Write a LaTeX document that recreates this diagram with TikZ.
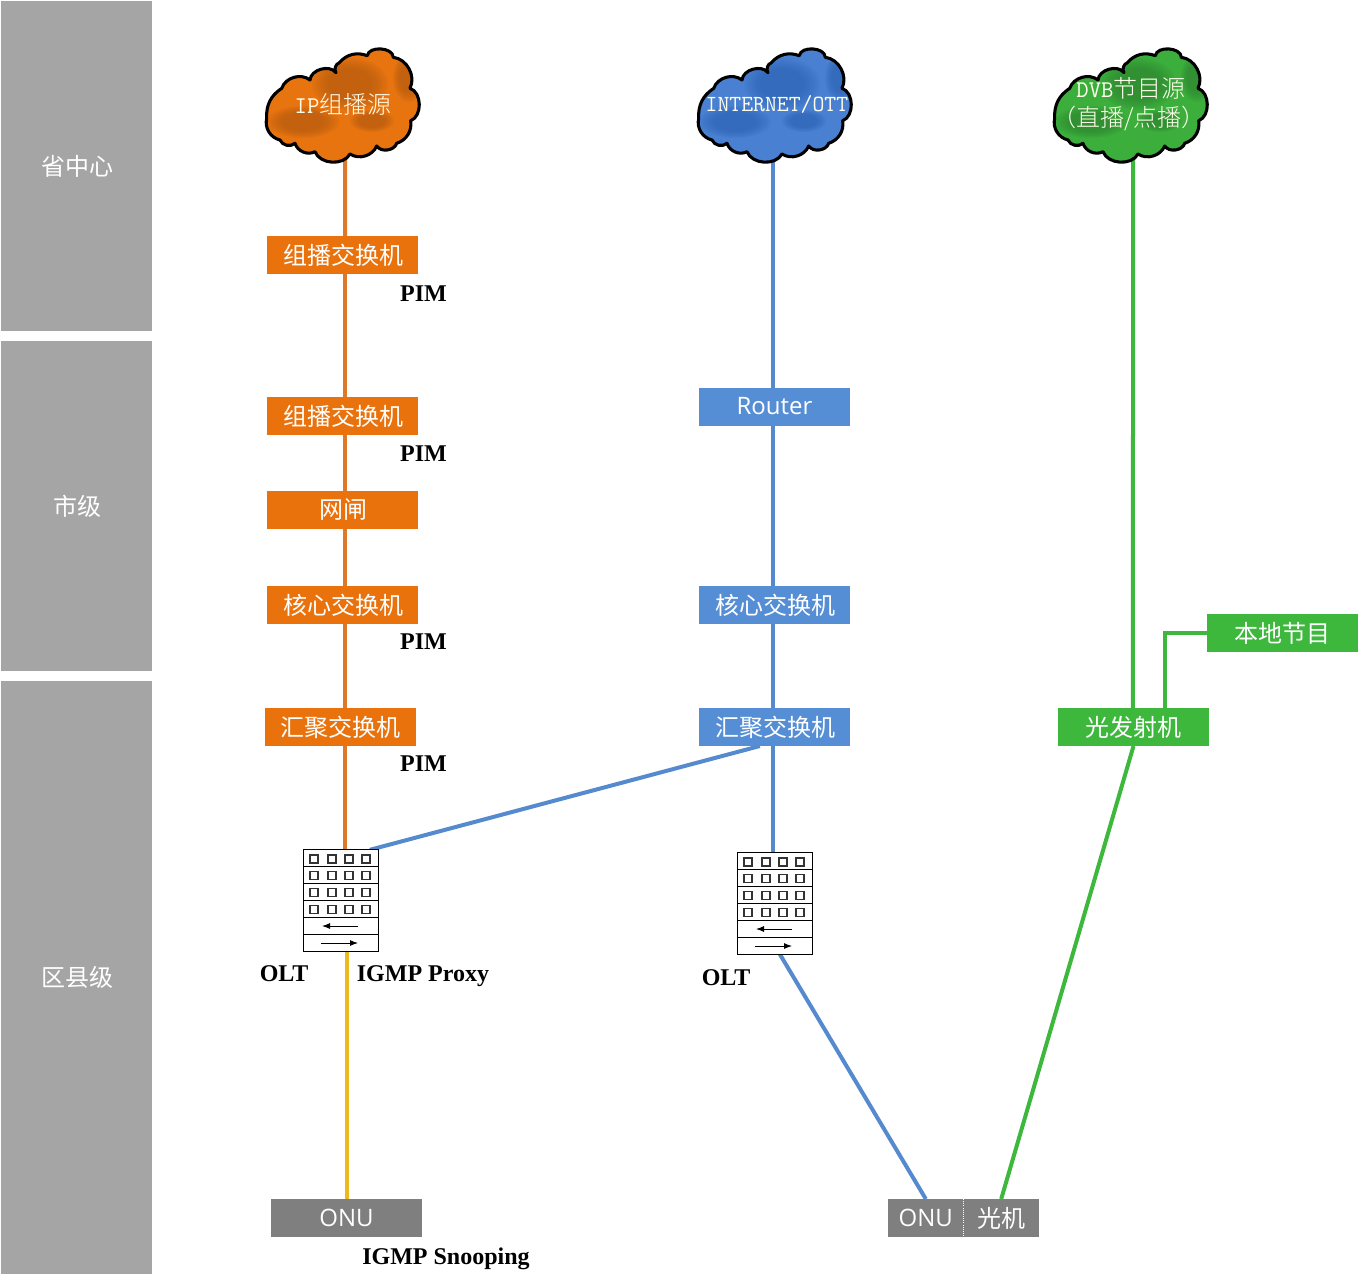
\documentclass[tikz,border=0pt]{standalone}
\usepackage{fontspec}
\setmainfont{Noto Sans CJK SC}
\newfontfamily\cjklight{Noto Sans CJK SC Light}
\newfontfamily\latinsans{Open Sans}
\newfontfamily\boldserif{Liberation Serif}[BoldFont={Liberation Serif Bold}]
\usetikzlibrary{backgrounds,arrows.meta,calc}
\definecolor{bandgray}{HTML}{A5A5A5}
\definecolor{onugray}{HTML}{7F7F7F}
\definecolor{orbox}{HTML}{E9720D}
\definecolor{orline}{HTML}{E0782A}
\definecolor{blbox}{HTML}{558ED5}
\definecolor{blline}{HTML}{558ACF}
\definecolor{grbox}{HTML}{3DB83D}
\definecolor{ylline}{HTML}{EEB91C}
\definecolor{orcloud}{HTML}{E8740F}
\definecolor{ordark}{HTML}{B05A12}
\definecolor{blcloud}{HTML}{4A80D2}
\definecolor{bldark}{HTML}{2C62B4}
\definecolor{grcloud}{HTML}{3CAE3C}
\definecolor{grdark}{HTML}{2C8230}
\newcommand{\tx}[1]{\hspace*{1pt}\raisebox{1pt}{#1}}
\tikzset{
  base/.style={inner sep=0pt,outer sep=0pt,text=white,font=\fontsize{18}{20}\selectfont},
  band/.style={base,fill=bandgray,minimum width=113.25pt},
  devbox/.style={base,minimum width=113.25pt,minimum height=28.5pt},
  orangebox/.style={devbox,fill=orbox},
  bluebox/.style={devbox,fill=blbox},
  greenbox/.style={devbox,fill=grbox},
  graybox/.style={devbox,fill=onugray},
  halfbox/.style={base,fill=onugray,minimum width=56.6pt,minimum height=28.5pt},
  lbl/.style={inner sep=0pt,font=\boldserif\bfseries\fontsize{18}{20}\selectfont,text=black},
  cloudtext/.style={inner sep=0pt,outer sep=0pt,text=white!92!yellow,align=center,
     minimum width=114pt,minimum height=76.5pt,font=\cjklight\fontsize{18}{22}\selectfont},
  link/.style={line width=3pt},
  olink/.style={link,draw=orline},
  blink/.style={link,draw=blline},
  glink/.style={link,draw=grbox},
  ylink/.style={link,draw=ylline},
  oltframe/.style={draw=black,line width=.7pt,fill=white,inner sep=0pt,outer sep=0pt,minimum width=56.25pt,minimum height=76pt},
}
\def\cloudshape{(266.7,118.3) to[bend left=30] (281.7,88.3) to[bend left=55] (310,80) to[bend left=70] (336,72.7)
 to[bend left=50] (339.3,62.7) to[bend left=35] (367.3,55.7) to[bend left=85] (393.3,57.3) to[bend left=55] (410,88.3)
 to[bend left=70] (410.7,120.7) to[bend left=40] (396.7,143.3) to[bend left=65] (376.7,146) to[bend left=50] (350,154)
 to[bend left=65] (315,151.7) to[bend left=50] (295,143.3) to[bend left=55] (280,140) to[bend left=45] (266.7,118.3) -- cycle}
% soft blob: centre x, y, radii, colour
\newcommand{\softblob}[5]{%
  \foreach \s in {1,.93,.86,.79,.72,.65,.58}{
    \fill[#5,opacity=.13] (#1,#2) ellipse ({#3*\s} and {#4*\s});}}
% #1 x shift, #2 base colour, #3 dark colour
\newcommand{\cloudbody}[3]{%
 \begin{scope}[shift={(#1,0)}]
  \begin{scope}
   \clip \cloudshape;
   \fill[#2] (250,30) rectangle (430,170);
   \softblob{350}{84}{38}{26}{#3}
   \softblob{409}{78}{16}{24}{#3}
   \softblob{303}{122}{36}{16}{#3}
   \softblob{372}{121}{22}{11}{#3}
  \end{scope}
  \draw[black,line width=2.3pt,line join=round] \cloudshape;
 \end{scope}}
% #1 name, #2 centre x, #3 top y
\newcommand{\oltdevice}[3]{%
 \node[oltframe] (#1) at (#2,#3+50.5) {};
 \begin{scope}[shift={(#2-37.5,#3)}]
  \foreach \r in {1,2,3,4,5}{
    \draw[black,line width=.7pt] (0,{\r*16.8}) -- (75,{\r*16.8});}
  \foreach \r in {0,1,2,3}{\foreach \c in {7,25,42,59}{
    \draw[black!80,line width=.8pt] (\c,{\r*16.7+5}) rectangle ++(8,8);}}
  \draw[-{Latex[length=6pt,width=4.5pt]},line width=.7pt] (55,76) -- (19,76);
  \draw[-{Latex[length=6pt,width=4.5pt]},line width=.7pt] (18,93) -- (55,93);
 \end{scope}}
\begin{document}
\begin{tikzpicture}[x=.75pt,y=-.75pt]
\useasboundingbox (0,0) rectangle (1359,1282);
% bands
\node[band,minimum height=247.5pt] (b1) at (76.5,166) {\tx{省中心}};
\node[band,minimum height=247.5pt] (b2) at (76.5,506) {\tx{市级}};
\node[band,minimum height=444.75pt] (b3) at (76.5,977.5) {\hspace*{1pt}区县级};
% clouds
\cloudbody{0}{orcloud}{ordark}
\cloudbody{432}{blcloud}{bldark}
\cloudbody{788}{grcloud}{grdark}
\node[cloudtext] (ipc) at (343,104) {{\ttfamily IP}组播源};
\node[cloudtext] (netc) at (774.5,104) {\hspace*{3.7pt}{\ttfamily\fontsize{17.3}{22}\selectfont INTERNET/OTT}};
\node[cloudtext] (dvbc) at (1131,104) {{\ttfamily DVB}节目源\\\hspace*{-3pt}（直播/点播）};
% orange column
\node[orangebox] (o1) at (342.5,255) {\tx{组播交换机}};
\node[orangebox] (o2) at (342.5,416) {\tx{组播交换机}};
\node[orangebox] (o3) at (342.5,510) {\hspace*{1pt}网闸};
\node[orangebox] (o4) at (342.5,605) {\tx{核心交换机}};
\node[orangebox] (o5) at (340.5,727) {\raisebox{1pt}{汇聚交换机}};
\oltdevice{olt1}{340.5}{850}
\node[graybox] (onu1) at (346.5,1218) {\latinsans\raisebox{.7pt}{ONU}};
% blue column
\node[bluebox] (r1) at (774.5,407) {\latinsans\raisebox{1pt}{Router}};
\node[bluebox] (r2) at (774.5,605) {\tx{核心交换机}};
\node[bluebox] (r3) at (774.5,727) {\tx{汇聚交换机}};
\oltdevice{olt2}{774.5}{853}
\node[halfbox] (onu2) at (925.8,1218) {\latinsans\raisebox{.7pt}{ONU}};
\node[halfbox] (gj) at (1001.2,1218) {光机};
% green column
\node[greenbox] (g1) at (1133.5,727) {\raisebox{1pt}{光发射机}};
\node[greenbox] (g2) at (1282.5,633) {\raisebox{1pt}{本地节目}};
\draw[white,densely dotted,line width=.6pt] (onu2.north east) -- (onu2.south east);
% labels
\node[lbl] (p1) at (423.5,294) {PIM};
\node[lbl] (p2) at (423.5,454) {PIM};
\node[lbl] (p3) at (423.5,642) {PIM};
\node[lbl] (p4) at (423.5,764) {PIM};
\node[lbl] (l1) at (284,974) {OLT};
\node[lbl] (l2) at (423,976) {IGMP Proxy};
\node[lbl] (l3) at (726,978) {OLT};
\node[lbl] (l4) at (446,1259) {IGMP Snooping};
% connectors
\begin{scope}[on background layer]
 \draw[olink] ([xshift=1.52pt]ipc.south) -- ([xshift=1.9pt]o1.north);
 \draw[olink] ([xshift=1.9pt]o1.south) -- ([xshift=1.9pt]o2.north);
 \draw[olink] ([xshift=1.9pt]o2.south) -- ([xshift=1.9pt]o3.north);
 \draw[olink] ([xshift=1.9pt]o3.south) -- ([xshift=1.9pt]o4.north);
 \draw[olink] ([xshift=1.9pt]o4.south) -- ([xshift=3.4pt]o5.north);
 \draw[olink] ([xshift=3.4pt]o5.south) -- ([xshift=3.4pt]olt1.north);
 \draw[ylink] ([xshift=4.9pt]olt1.south) -- ([xshift=.4pt]onu1.north);
 \draw[blink] ([xshift=-1pt]netc.south) -- ([xshift=-1pt]r1.north);
 \draw[blink] ([xshift=-1pt]r1.south) -- ([xshift=-1pt]r2.north);
 \draw[blink] ([xshift=-1pt]r2.south) -- ([xshift=-1pt]r3.north);
 \draw[blink] ([xshift=-1pt]r3.south) -- ([xshift=-1pt]olt2.north);
 \draw[blink] ([xshift=-11pt]r3.south) -- ([xshift=22pt]olt1.north);
 \draw[blink] ([xshift=4pt]olt2.south) -- (onu2.north);
 \draw[glink] ([xshift=1.5pt]dvbc.south) -- ([xshift=-.4pt]g1.north);
 \draw[glink] (g1.south) -- (gj.north);
 \draw[glink] ([xshift=23.6pt]g1.north) |- (g2.west);
\end{scope}
\end{tikzpicture}
\end{document}
